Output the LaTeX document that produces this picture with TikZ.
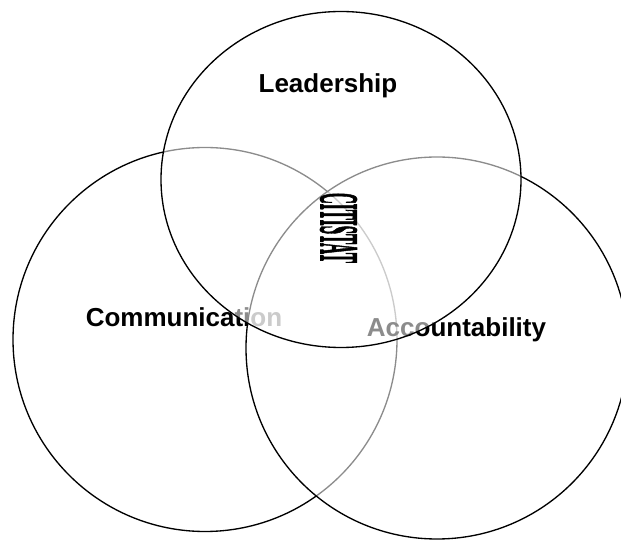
\documentclass[tikz,border=0pt]{standalone}
\usepackage{graphicx}
\usepackage{fontspec}
\setsansfont{Liberation Sans}
\newfontfamily\citifont[FakeBold=2.5]{Liberation Serif}

\begin{document}
\begin{tikzpicture}[x=.75pt,y=.75pt,font=\sffamily\bfseries\fontsize{19.5}{22}\selectfont,
  ring/.style={draw=black,line width=1pt},
  veil/.style={fill=white,fill opacity=.55}]
\useasboundingbox (0,0) rectangle (621,539);
% lower left ring first, the later rings veil what lies under them
\draw[ring] (205,199.5) circle[radius=192];
\node[anchor=base] (comm) at (184,212) {Communication};
\draw[ring,veil] (437,191) circle[radius=191];
\node[anchor=base] (acct) at (456.5,202) {Accountability};
\draw[ring,veil] (341,359.5) ellipse[x radius=180,y radius=168];
\node[anchor=base] (lead) at (328,446) {Leadership};
% stretched word in the middle
\node[rotate=-90,inner sep=0pt] (citi) at (338.5,311) {\citifont\bfseries\resizebox{52.5pt}{27pt}{CITISTAT}};
\end{tikzpicture}
\end{document}
